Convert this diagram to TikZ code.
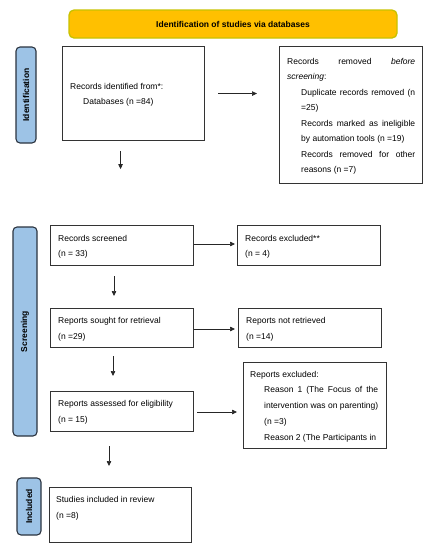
\documentclass[tikz,border=0pt]{standalone}
\usepackage{fontspec}
\setmainfont{Liberation Sans}
\usetikzlibrary{arrows.meta,calc}
\definecolor{titlefill}{HTML}{FFC000}
\definecolor{titledraw}{HTML}{C8C200}
\definecolor{sidefill}{HTML}{9DC3E6}
\definecolor{sidedraw}{HTML}{2B3440}
\definecolor{boxdraw}{HTML}{333333}
\tikzset{
  x=1pt,y=-1pt,
  every node/.style={font=\fontsize{8.5}{10}\selectfont, inner sep=0pt},
  titlebox/.style={draw=titledraw, line width=1.3pt, fill=titlefill, rounded corners=5pt},
  sidebox/.style={draw=sidedraw, line width=1.1pt, fill=sidefill, rounded corners=4pt},
  flowbox/.style={draw=boxdraw, line width=1.1pt, fill=white},
  txt/.style={anchor=base west},
  sidetxt/.style={rotate=90, font=\fontsize{8.5}{10}\selectfont\bfseries},
  arr/.style={draw=black!85, line width=0.7pt, -{Triangle[length=5pt,width=4.5pt]}}
}
\newcommand{\jline}[2]{\makebox[#1][s]{#2}}
\begin{document}
\begin{tikzpicture}
\useasboundingbox (0,0) rectangle (429,550);
\fill[white] (0,0) rectangle (429,550);

% title
\draw[titlebox] (69,10) rectangle (397,38);
\node[font=\fontsize{8.5}{10}\selectfont\bfseries] (title) at (233,24.5) {Identification of studies via databases};

% side labels
\draw[sidebox] (16,47) rectangle (36,143);
\node[sidetxt] (lid) at (26,95) {Identification};
\draw[sidebox] (13,227) rectangle (37,436);
\node[sidetxt] (lscr) at (25,331.5) {Screening};
\draw[sidebox] (17,478) rectangle (41,535);
\node[sidetxt] (linc) at (29,506.5) {Included};

% boxes
\node[flowbox, minimum width=142pt, minimum height=94pt, anchor=north west] (ident) at (62,46) {};
\node[txt] (identt1) at (70,89) {Records identified from*:};
\node[txt] (identt2) at (83,104) {Databases (n =84)};

\node[flowbox, minimum width=143pt, minimum height=137pt, anchor=north west] (removed) at (279,46) {};
\node[txt] (rem1) at (287,64) {\jline{128pt}{Records removed \textit{before}}};
\node[txt] (rem2) at (287,79.5) {\textit{screening}:};
\node[txt] (rem3) at (301,95) {\jline{114pt}{Duplicate records removed (n}};
\node[txt] (rem4) at (301,110.5) {=25)};
\node[txt] (rem5) at (301,126) {\jline{114pt}{Records marked as ineligible}};
\node[txt] (rem6) at (301,141.5) {by automation tools (n =19)};
\node[txt] (rem7) at (301,157) {\jline{114pt}{Records removed for other}};
\node[txt] (rem8) at (301,172.5) {reasons (n =7)};

\node[flowbox, minimum width=143pt, minimum height=40pt, anchor=north west] (screened) at (50,225) {};
\node[txt] (scr1) at (58,241) {Records screened};
\node[txt] (scr2) at (58,256) {(n = 33)};

\node[flowbox, minimum width=143pt, minimum height=40pt, anchor=north west] (excl) at (237,225) {};
\node[txt] (exc1) at (245,241) {Records excluded**};
\node[txt] (exc2) at (245,256) {(n = 4)};

\node[flowbox, minimum width=143pt, minimum height=39pt, anchor=north west] (sought) at (50,308) {};
\node[txt] (sou1) at (58,323) {Reports sought for retrieval};
\node[txt] (sou2) at (58,339) {(n =29)};

\node[flowbox, minimum width=143pt, minimum height=39pt, anchor=north west] (notret) at (238,308) {};
\node[txt] (not1) at (246,323) {Reports not retrieved};
\node[txt] (not2) at (246,339) {(n =14)};

\node[flowbox, minimum width=143pt, minimum height=40pt, anchor=north west] (assessed) at (50,391) {};
\node[txt] (ass1) at (58,406) {Reports assessed for eligibility};
\node[txt] (ass2) at (58,422) {(n = 15)};

\node[flowbox, minimum width=143pt, minimum height=86pt, anchor=north west] (repexcl) at (243,362) {};
\node[txt] (rex1) at (250,377) {Reports excluded:};
\node[txt] (rex2) at (264,392.5) {\jline{114pt}{Reason 1 (The Focus of the}};
\node[txt] (rex3) at (264,408.5) {\jline{114pt}{intervention was on parenting)}};
\node[txt] (rex4) at (264,424) {(n =3)};
\node[txt] (rex5) at (264,440) {Reason 2 (The Participants in};

\node[flowbox, minimum width=142pt, minimum height=55pt, anchor=north west] (included) at (49,487) {};
\node[txt] (inc1) at (56,502) {Studies included in review};
\node[txt] (inc2) at (56,518) {(n =8)};

% connectors (with free ends as named coordinates)
\coordinate (c1a) at ($(ident.east)+(13,0)$);
\coordinate (c1b) at ($(removed.west |- c1a)+(-22,0)$);
\draw[arr] (c1a) -- (c1b);

\coordinate (c2a) at ($(ident.south)+(-13,10)$);
\coordinate (c2b) at ($(c2a)+(0,18)$);
\draw[arr] (c2a) -- (c2b);

\draw[arr] (screened.east |- 0,244) -- ($(excl.west |- 0,244)+(-2,0)$);

\coordinate (c3a) at (114,276);
\coordinate (c3b) at (114,296);
\draw[arr] (c3a) -- (c3b);

\draw[arr] (sought.east |- 0,329) -- ($(notret.west |- 0,329)+(-3,0)$);

\coordinate (c4a) at (113,356);
\coordinate (c4b) at (113,376);
\draw[arr] (c4a) -- (c4b);

\coordinate (c5a) at ($(assessed.east |- 0,412)+(3,0)$);
\coordinate (c5b) at ($(repexcl.west |- 0,412)+(-6,0)$);
\draw[arr] (c5a) -- (c5b);

\coordinate (c6a) at (109,446);
\coordinate (c6b) at (109,466);
\draw[arr] (c6a) -- (c6b);
\end{tikzpicture}
\end{document}
